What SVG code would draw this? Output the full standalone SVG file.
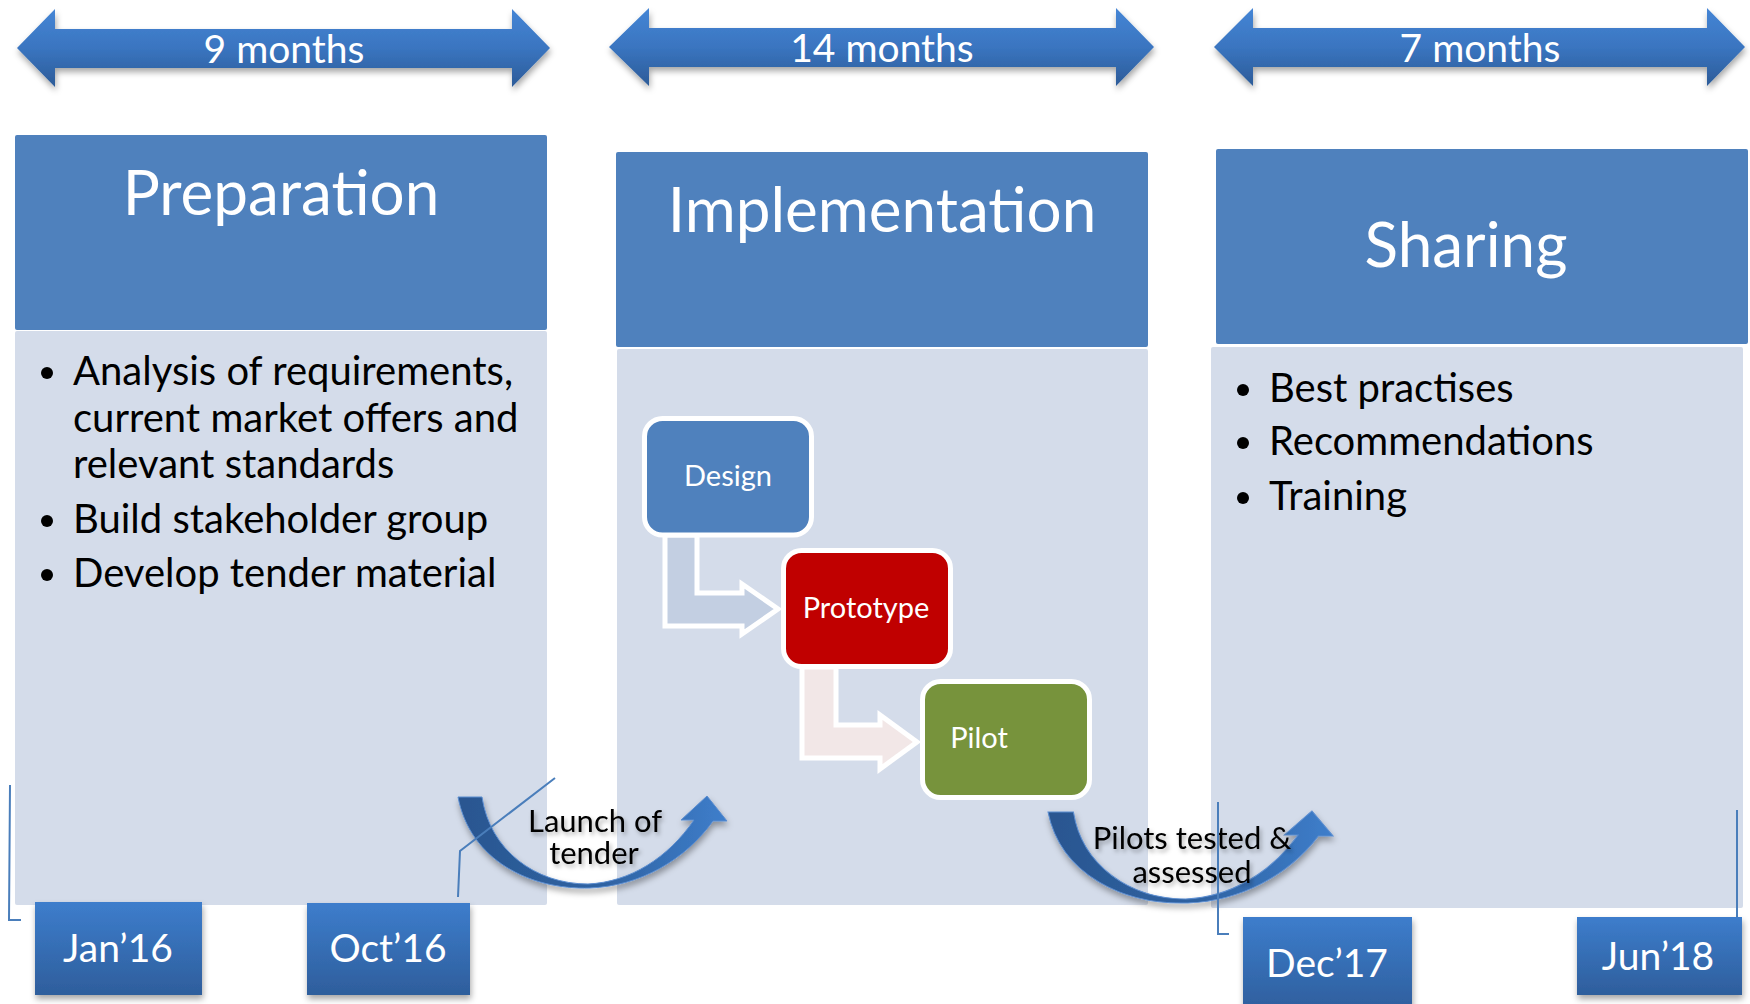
<svg xmlns="http://www.w3.org/2000/svg" width="1750" height="1004" viewBox="0 0 1750 1004">
  <style>
    .hdr { fill: #4f81bd; }
    .body { fill: #d4dcea; }
    .title { font-family: Lato, "Liberation Sans", sans-serif; font-size: 62px; fill: #ffffff; text-anchor: middle; }
    .span { font-family: Lato, "Liberation Sans", sans-serif; font-size: 39px; fill: #ffffff; text-anchor: middle; }
    .bullet { font-family: Lato, "Liberation Sans", sans-serif; font-size: 40px; fill: #000000; }
    .dot { fill: #000000; }
    .date { font-family: Lato, "Liberation Sans", sans-serif; font-size: 39px; fill: #ffffff; text-anchor: middle; }
    .step { font-family: Lato, "Liberation Sans", sans-serif; font-size: 29px; fill: #ffffff; text-anchor: middle; }
    .note { font-family: Lato, "Liberation Sans", sans-serif; font-size: 31px; fill: #000000; text-anchor: middle; }
    .tick { fill: none; stroke: #4a7ebb; stroke-width: 2; }
    .box { stroke: #ffffff; stroke-width: 5; }
  </style>
  <defs>
    <linearGradient id="gArrow" x1="0" y1="0" x2="0" y2="1">
      <stop offset="0" stop-color="#4585d5"/>
      <stop offset="0.5" stop-color="#3a75c0"/>
      <stop offset="1" stop-color="#2c5b98"/>
    </linearGradient>
    <linearGradient id="gDate" x1="0" y1="0" x2="0" y2="1">
      <stop offset="0" stop-color="#3d7dcc"/>
      <stop offset="1" stop-color="#2e5e9c"/>
    </linearGradient>
    <linearGradient id="gCurve" x1="0" y1="0" x2="1" y2="0">
      <stop offset="0" stop-color="#2a5690"/>
      <stop offset="0.55" stop-color="#2f63a3"/>
      <stop offset="1" stop-color="#3e7ecb"/>
    </linearGradient>
    <filter id="shadow" x="-10%" y="-20%" width="120%" height="150%">
      <feDropShadow dx="1" dy="4" stdDeviation="3" flood-color="#000000" flood-opacity="0.35"/>
    </filter>
    <filter id="tshadow" x="-10%" y="-30%" width="120%" height="160%">
      <feDropShadow dx="2" dy="3" stdDeviation="2" flood-color="#000000" flood-opacity="0.3"/>
    </filter>
    <!-- curved "up" arrow, drawn from its top-left corner -->
    <path id="curveArrow" d="M 0,0 C 12,63 72,93 132,91 C 182,89 227,63 255,24 L 269,24 L 249,-1 L 223,23 L 236,23 C 210,61 172,85 130,87 C 77,87 32,53 24,0 Z"/>
  </defs>

  <!-- phase panels -->
  <g id="preparation">
    <rect class="hdr" x="15" y="135" width="532" height="195" rx="2"/>
    <rect class="body" x="15" y="331" width="532" height="574" rx="2"/>
    <text class="title" x="281" y="215">Preparation</text>
    <circle class="dot" cx="47" cy="373" r="6"/>
    <text class="bullet" x="73" y="385">Analysis of requirements,</text>
    <text class="bullet" x="73" y="432">current market offers and</text>
    <text class="bullet" x="73" y="478">relevant standards</text>
    <circle class="dot" cx="47" cy="521" r="6"/>
    <text class="bullet" x="73" y="533">Build stakeholder group</text>
    <circle class="dot" cx="47" cy="575" r="6"/>
    <text class="bullet" x="73" y="587">Develop tender material</text>
  </g>

  <g id="implementation">
    <rect class="hdr" x="616" y="152" width="532" height="195" rx="2"/>
    <rect class="body" x="617" y="349" width="531" height="556" rx="2"/>
    <text class="title" x="882" y="232">Implementation</text>
  </g>

  <g id="sharing">
    <rect class="hdr" x="1216" y="149" width="532" height="195" rx="2"/>
    <rect class="body" x="1211" y="347" width="532" height="561" rx="2"/>
    <text class="title" x="1466" y="267">Sharing</text>
    <circle class="dot" cx="1243" cy="390" r="6"/>
    <text class="bullet" x="1269" y="402">Best practises</text>
    <circle class="dot" cx="1243" cy="443" r="6"/>
    <text class="bullet" x="1269" y="455">Recommendations</text>
    <circle class="dot" cx="1243" cy="498" r="6"/>
    <text class="bullet" x="1269" y="510">Training</text>
  </g>

  <!-- duration arrows -->
  <g id="span-9">
    <path fill="url(#gArrow)" filter="url(#shadow)" d="M 17,48 L 55,9 L 55,29 L 512,29 L 512,9 L 550,48 L 512,87 L 512,68 L 55,68 L 55,87 Z"/>
    <text class="span" x="284" y="63">9 months</text>
  </g>
  <g id="span-14">
    <path fill="url(#gArrow)" filter="url(#shadow)" d="M 609,47 L 649,8 L 649,28 L 1116,28 L 1116,8 L 1154,47 L 1116,86 L 1116,67 L 649,67 L 649,86 Z"/>
    <text class="span" x="882" y="62">14 months</text>
  </g>
  <g id="span-7">
    <path fill="url(#gArrow)" filter="url(#shadow)" d="M 1214,47 L 1253,8 L 1253,28 L 1707,28 L 1707,8 L 1745,47 L 1707,86 L 1707,67 L 1253,67 L 1253,86 Z"/>
    <text class="span" x="1480" y="62">7 months</text>
  </g>

  <!-- implementation flow connectors -->
  <g id="connectors">
    <path class="box" fill="#c3cfe2" d="M 665,535 L 697,535 L 697,593 L 742,593 L 742,584 L 778,609 L 742,634 L 742,626 L 665,626 Z"/>
    <path class="box" fill="#f2e7e7" d="M 802,667 L 836,667 L 836,725 L 880,725 L 880,715 L 917,742 L 880,769 L 880,758 L 802,758 Z"/>
  </g>

  <g id="design">
    <rect class="box" fill="#4f81bd" x="644.5" y="418.5" width="167" height="116.5" rx="18"/>
    <text class="step" x="728" y="486">Design</text>
  </g>
  <g id="prototype">
    <rect class="box" fill="#c00000" x="783.5" y="550.5" width="167" height="116" rx="18"/>
    <text class="step" x="866" y="618">Prototype</text>
  </g>
  <g id="pilot">
    <rect class="box" fill="#77933c" x="922.5" y="681.5" width="167" height="116" rx="18"/>
    <text class="step" x="979" y="748">Pilot</text>
  </g>

  <!-- milestone transitions -->
  <g id="launch-of-tender">
    <use href="#curveArrow" transform="translate(458,797)" fill="url(#gCurve)" stroke="#5b8dd0" stroke-width="1" filter="url(#shadow)"/>
    <g filter="url(#tshadow)">
      <text class="note" x="595" y="832">Launch of</text>
      <text class="note" x="594" y="864">tender</text>
    </g>
  </g>
  <g id="pilots-tested">
    <use href="#curveArrow" transform="translate(1048,812) scale(1.06,1)" fill="url(#gCurve)" stroke="#5b8dd0" stroke-width="1" filter="url(#shadow)"/>
    <g filter="url(#tshadow)">
      <text class="note" x="1192" y="849">Pilots tested &amp;</text>
      <text class="note" x="1192" y="883">assessed</text>
    </g>
  </g>

  <!-- date markers and their leader lines -->
  <g id="leaders">
    <path class="tick" d="M 10,785 L 9,920 L 21,920"/>
    <path class="tick" d="M 458,897 L 460,851 L 555,778"/>
    <path class="tick" d="M 1218,802 L 1218,934 L 1229,934"/>
    <path class="tick" d="M 1737,810 L 1737,917"/>
  </g>

  <g id="jan16">
    <rect fill="url(#gDate)" filter="url(#shadow)" x="35" y="902" width="167" height="93"/>
    <text class="date" x="118" y="962">Jan’16</text>
  </g>
  <g id="oct16">
    <rect fill="url(#gDate)" filter="url(#shadow)" x="307" y="903" width="163" height="92"/>
    <text class="date" x="388" y="962">Oct’16</text>
  </g>
  <g id="dec17">
    <rect fill="url(#gDate)" filter="url(#shadow)" x="1243" y="917" width="169" height="95"/>
    <text class="date" x="1327" y="977">Dec’17</text>
  </g>
  <g id="jun18">
    <rect fill="url(#gDate)" filter="url(#shadow)" x="1577" y="917" width="165" height="78"/>
    <text class="date" x="1658" y="970">Jun’18</text>
  </g>
</svg>
